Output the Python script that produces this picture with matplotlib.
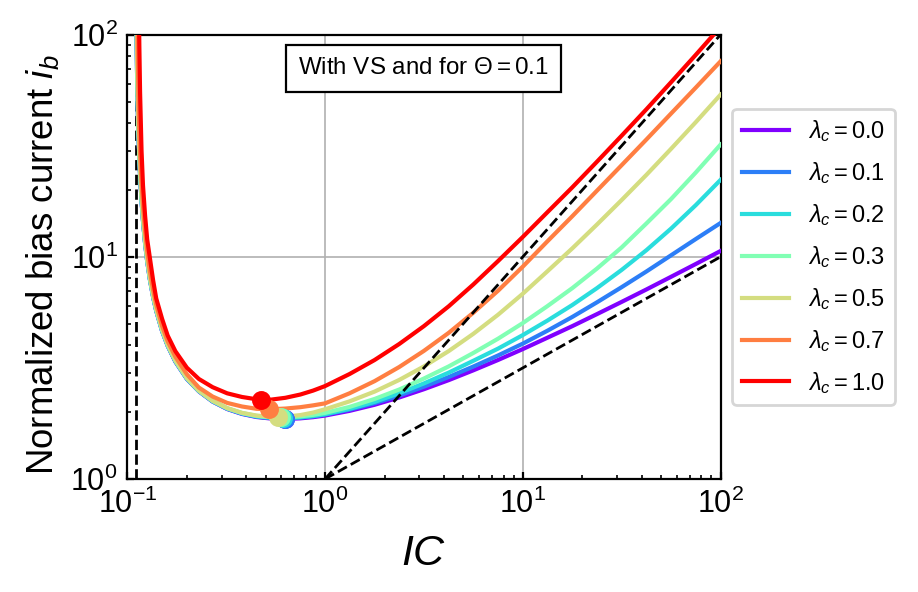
import numpy as np
import matplotlib
matplotlib.use('Agg')
import matplotlib.pyplot as plt

nan = np.nan

# ---- data ----
IC = [0.111, 0.112, 0.113, 0.114, 0.115, 0.116, 0.118, 0.12, 0.123, 0.126, 0.13,
      0.135, 0.14, 0.15, 0.16, 0.175, 0.2,
      0.23, 0.27, 0.32, 0.38, 0.45, 0.53, 0.63, 0.75, 0.87,
      1, 1.33, 1.78, 2.37, 3.16, 4.22, 5.62, 7.5, 10, 13.3, 17.8, 23.7, 31.6,
      42.2, 56.2, 75, 100]

ib_l00 = [133, 67.3, 45.3, 34.3, 27.7, 23.3, 17.8, 14.5, 11.46, 9.55, 7.91,
          6.59, 5.71, 4.62, 3.97, 3.37, 2.82,
          2.48, 2.23, 2.065, 1.962, 1.901, 1.872, 1.863, 1.875, 1.898,
          1.930, 2.026, 2.158, 2.327, 2.535, 2.786, 3.084, 3.434, 3.844, 4.322,
          4.876, 5.521, 6.267, 7.132, 8.131, 9.288, 10.624]
ib_l01 = [135, 68, 45.6, 34.5, 27.9, 23.4, 17.9, 14.55, 11.5, 9.58, 7.93,
          6.61, 5.72, 4.63, 3.98, 3.38, 2.825,
          2.485, 2.234, 2.069, 1.968, 1.907, 1.879, 1.872, 1.888, 1.913,
          1.949, 2.052, 2.193, 2.374, 2.603, 2.878, 3.207, 3.599, 4.067, 4.646,
          5.364, 6.239, 7.301, 8.594, 10.16, 12.03, 14.2]
ib_l02 = [137, 68.5, 46, 34.8, 28.1, 23.5, 18.0, 14.6, 11.55, 9.62, 7.96,
          6.63, 5.74, 4.645, 3.99, 3.39, 2.83,
          2.49, 2.239, 2.075, 1.974, 1.914, 1.887, 1.880, 1.896, 1.921,
          1.957, 2.069, 2.223, 2.432, 2.692, 3.012, 3.405, 3.863, 4.444, 5.160,
          6.071, 7.227, 8.730, 10.72, 13.40, 17.10, 22.2]
ib_l03 = [142, 70, 46.5, 35.2, 28.4, 23.7, 18.1, 14.7, 11.6, 9.66, 7.99,
          6.65, 5.76, 4.66, 4.0, 3.40, 2.84,
          2.495, 2.246, 2.082, 1.982, 1.924, 1.898, 1.895, 1.913, 1.944,
          1.984, 2.111, 2.292, 2.527, 2.832, 3.212, 3.692, 4.282, 5.032, 5.995,
          7.231, 8.850, 11.02, 14.14, 18.20, 23.98, 32.0]
ib_l05 = [200, 85, 53, 38.5, 30.5, 25.2, 18.9, 15.2, 11.9, 9.85, 8.12,
          6.74, 5.82, 4.70, 4.03, 3.42, 2.85,
          2.50, 2.25, 2.085, 1.985, 1.93, 1.905, 1.908, 1.94, 1.99,
          2.06, 2.236, 2.474, 2.791, 3.210, 3.765, 4.502, 5.490, 6.823, 8.60,
          10.92, 13.97, 18.01, 23.40, 30.63, 40.41, 53.7]
ib_l07 = [nan, 160, 77, 48, 36, 29, 21.5, 16.9, 13.0, 10.6, 8.6,
          7.1, 6.1, 4.88, 4.17, 3.55, 2.96,
          2.58, 2.35, 2.20, 2.12, 2.07, 2.06, 2.075, 2.105, 2.145,
          2.19, 2.431, 2.757, 3.191, 3.772, 4.549, 5.603, 7.042, 9.036, 11.73,
          15.24, 19.84, 25.85, 33.76, 44.16, 57.81, 75.86]
ib_l10 = [nan, nan, nan, 170, 90, 55, 30, 21, 15.3, 12.0, 9.9,
          7.85, 6.5, 5.25, 4.42, 3.76, 3.17,
          2.82, 2.59, 2.43, 2.34, 2.285, 2.275, 2.32, 2.40, 2.50,
          2.62, 2.968, 3.432, 4.05, 4.875, 5.99, 7.508, 9.576, 12.29, 15.86,
          20.56, 26.79, 35.09, 46.18, 61.09, 81.2, 108.5]

lambdas = ['0.0', '0.1', '0.2', '0.3', '0.5', '0.7', '1.0']
series = [ib_l00, ib_l01, ib_l02, ib_l03, ib_l05, ib_l07, ib_l10]

# minima (dots)
min_ic = [0.63, 0.625, 0.615, 0.60, 0.575, 0.523, 0.473]
min_ib = [1.863, 1.871, 1.880, 1.895, 1.905, 2.06, 2.27]

# asymptotes
ic_vert = 0.11
vert_y = [1, 100]
asym_x = [1, 100]
asym_slope1 = [1, 100]
asym_slope_half = [1, 10]

# ---- style ----
plt.rcParams['font.family'] = ['Liberation Sans', 'DejaVu Sans']
plt.rcParams['mathtext.fontset'] = 'custom'
plt.rcParams['mathtext.rm'] = 'Liberation Sans'
plt.rcParams['mathtext.it'] = 'Liberation Sans:italic'
plt.rcParams['mathtext.bf'] = 'Liberation Sans:bold'
plt.rcParams['mathtext.sf'] = 'Liberation Sans'

fig = plt.figure(figsize=(4.59, 2.96), dpi=200)
ax = fig.add_axes([0.1387, 0.1909, 0.6462, 0.7505])

colors = plt.cm.rainbow(np.linspace(0, 1, len(lambdas)))

for lam, ib, c, mx, my in zip(lambdas, series, colors, min_ic, min_ib):
    ax.plot(IC, ib, color=c, lw=1.5, label=r'$\lambda_c = %s$' % lam, zorder=3)
    ax.plot([mx], [my], 'o', color=c, ms=5.8, zorder=4)

ax.plot([ic_vert, ic_vert], vert_y, 'k--', lw=1.0, zorder=2)
ax.plot(asym_x, asym_slope1, 'k--', lw=1.0, zorder=5)
ax.plot(asym_x, asym_slope_half, 'k--', lw=1.0, zorder=5)

ax.set_xscale('log')
ax.set_yscale('log')
ax.set_xlim(0.1, 100)
ax.set_ylim(1, 100)
ax.grid(True, which='major', color='#b0b0b0', lw=0.6, zorder=0)
ax.tick_params(which='both', direction='in', labelsize=11)
ax.tick_params(which='major', length=2.5, width=0.8)
ax.tick_params(which='minor', length=1.6, width=0.6)
for s in ax.spines.values():
    s.set_linewidth(0.8)

ax.set_xlabel(r'$IC$', fontsize=15.5, labelpad=5)
ax.set_ylabel(r'Normalized bias current $i_b$', fontsize=13.2)
ax.yaxis.set_label_coords(-0.112, 0.483)

ax.text(0.5, 0.924, r'With VS and for $\Theta = 0.1$', transform=ax.transAxes,
        ha='center', va='center', fontsize=8.7, zorder=6,
        bbox=dict(boxstyle='square,pad=0.5', fc='white', ec='black', lw=0.8))

ax.legend(loc='center left', bbox_to_anchor=(1.0, 0.5), fontsize=8.5,
          handlelength=2.0, handletextpad=0.8, labelspacing=0.68, frameon=True)

fig.savefig('out.png', dpi=200)
